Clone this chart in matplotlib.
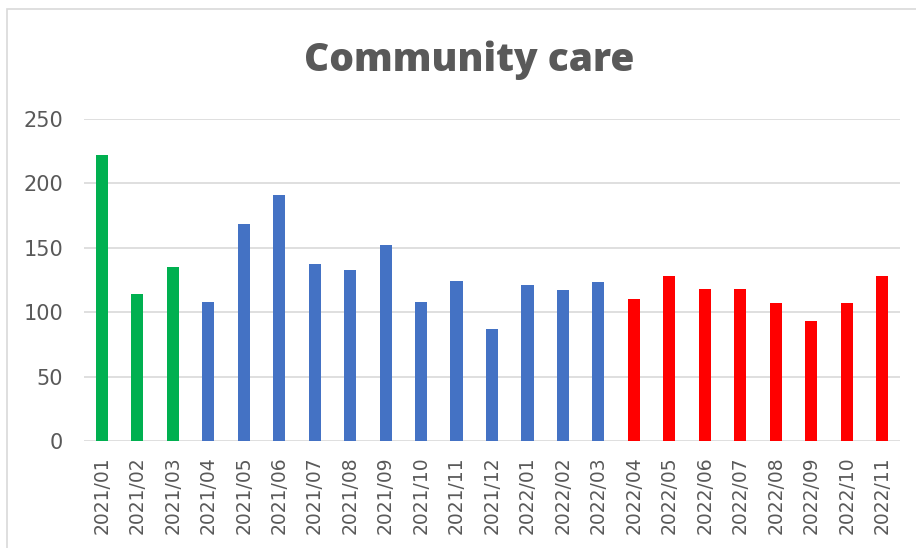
import matplotlib.pyplot as plt
from matplotlib.patches import Rectangle

months = ["2021/01", "2021/02", "2021/03", "2021/04", "2021/05", "2021/06",
          "2021/07", "2021/08", "2021/09", "2021/10", "2021/11", "2021/12",
          "2022/01", "2022/02", "2022/03", "2022/04", "2022/05", "2022/06",
          "2022/07", "2022/08", "2022/09", "2022/10", "2022/11"]
values = [222, 114, 135, 108, 168, 191, 137, 133, 152, 108, 124, 87,
          121, 117, 123, 110, 128, 118, 118, 107, 93, 107, 128]
groups = ["green"] * 3 + ["blue"] * 12 + ["red"] * 8
palette = {"green": "#00b050", "blue": "#4472c4", "red": "#ff0000"}
yticks = [0, 50, 100, 150, 200, 250]

fig = plt.figure(figsize=(9.16, 5.48), dpi=100)
fig.patches.append(Rectangle((7 / 916, -0.1), 1.2, (548 - 9) / 548 + 0.1,
                             transform=fig.transFigure, fill=False,
                             edgecolor="#d9d9d9", linewidth=1.2))

ax = fig.add_axes([84 / 916, 1 - 441 / 548, (900 - 84) / 916, (441 - 118.7) / 548])
x = range(len(months))
ax.bar(x, values, width=0.34, color=[palette[g] for g in groups], zorder=3)

ax.set_xlim(-0.5, len(months) - 0.5)
ax.set_ylim(0, 250)
ax.set_yticks(yticks)
ax.set_xticks(list(x))
ax.set_xticklabels(months, rotation=90)
ax.grid(axis="y", color="#d9d9d9", linewidth=1.2, zorder=0)
for s in ax.spines.values():
    s.set_visible(False)
ax.tick_params(axis="both", length=0, colors="#595959")
ax.tick_params(axis="y", pad=15, labelsize=15)
ax.tick_params(axis="x", pad=11, labelsize=13.5)

fig.text(469 / 916, 1 - 60 / 548, "Community care", ha="center", va="center",
         fontsize=28, fontweight=800, color="#595959", family="Open Sans")

fig.savefig("out.png", dpi=100)
